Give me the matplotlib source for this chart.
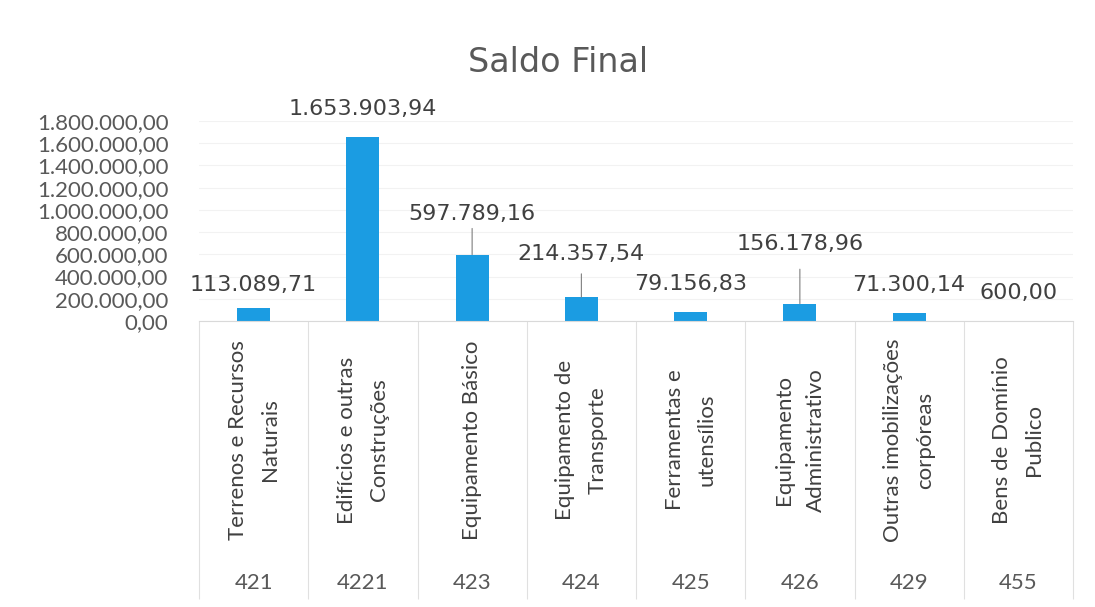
import numpy as np
import matplotlib.pyplot as plt
from matplotlib.ticker import FuncFormatter

codes = ["421", "4221", "423", "424", "425", "426", "429", "455"]
names = ["Terrenos e Recursos\nNaturais", "Edifícios e outras\nConstruções",
         "Equipamento Básico", "Equipamento de\nTransporte",
         "Ferramentas e\nutensílios", "Equipamento\nAdministrativo",
         "Outras imobilizações\ncorpóreas", "Bens de Domínio\nPublico"]
saldo = [113089.71, 1653903.94, 597789.16, 214357.54, 79156.83, 156178.96, 71300.14, 600.00]
yticks = np.arange(0, 1800001, 200000)


def fmt_pt(v, pos=None):
    s = f"{v:,.2f}"
    return s.replace(",", "X").replace(".", ",").replace("X", ".")


plt.rcParams['font.family'] = ['Lato', 'DejaVu Sans']
grey = '#595959'
blue = '#1b9ce2'

fig = plt.figure(figsize=(10.95, 6.07), dpi=100)
ax = fig.add_axes([199 / 1095, 1 - 321 / 607, (1073 - 199) / 1095, 200 / 607])

x = np.arange(len(codes))
ax.bar(x, saldo, width=0.3, color=blue, zorder=2)
ax.set_xlim(-0.5, len(codes) - 0.5)
ax.set_ylim(0, 1800000)
ax.set_yticks(yticks)
ax.yaxis.set_major_formatter(FuncFormatter(fmt_pt))
ax.tick_params(axis='y', length=0, labelsize=16, labelcolor=grey, pad=22)
ax.set_xticks([])
ax.grid(axis='y', color='#f2f2f2', lw=0.8, zorder=0)
for s in ['top', 'right', 'left']:
    ax.spines[s].set_visible(False)
ax.spines['bottom'].set_color('#d9d9d9')

# data labels (offset in points, leader line for some)
offsets = [17, 20, 29, 31, 20, 43, 20, 20]
leaders = [None, None, 1, 5, None, 9, None, None]
for xi, v, off, ld in zip(x, saldo, offsets, leaders):
    ax.annotate(fmt_pt(v), xy=(xi, v), xytext=(0, off), textcoords='offset points',
                ha='center', va='center', fontsize=16, color='#404040',
                family='DejaVu Sans',
                arrowprops=dict(arrowstyle='-', color='#7f7f7f', lw=0.8,
                                shrinkA=ld, shrinkB=0) if ld is not None else None)

# multi-level category axis
tr = ax.get_xaxis_transform()
for xi, nm, cd in zip(x, names, codes):
    ax.text(xi, -0.595, nm, transform=tr, rotation=90, ha='center', va='center',
            multialignment='center', fontsize=16, linespacing=1.75,
            color='#404040', clip_on=False)
    ax.text(xi, -1.31, cd, transform=tr, ha='center', va='center',
            fontsize=16, color=grey, clip_on=False)
ax.vlines(np.arange(len(codes) + 1) - 0.5, -1.39, 0, transform=tr,
          colors='#e0e0e0', lw=0.8, clip_on=False)

fig.text(558 / 1095, 1 - 63 / 607, "Saldo Final", ha='center', va='center',
         fontsize=24, color=grey, family='DejaVu Sans')

fig.savefig("out.png", dpi=100)
